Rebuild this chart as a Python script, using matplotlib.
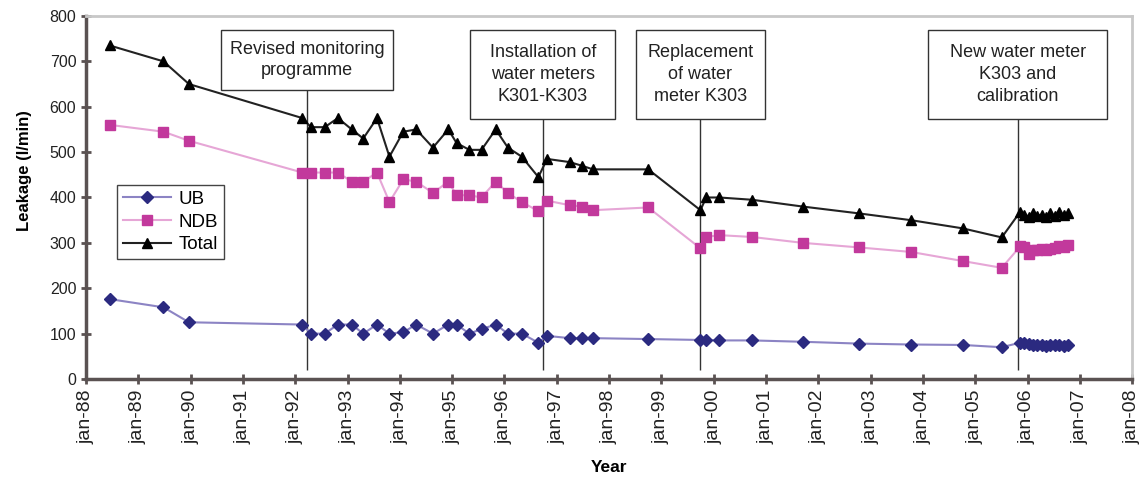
import matplotlib
matplotlib.use("Agg")
import matplotlib.pyplot as plt
import matplotlib.dates as mdates
from matplotlib.patches import Rectangle
from matplotlib.ticker import FuncFormatter
import pandas as pd

plt.rcParams["font.family"] = ["Liberation Sans", "DejaVu Sans"]

# measurement dates
dates = [
    "1988-06-15", "1989-06-25", "1989-12-20", "1992-02-20", "1992-04-20",
    "1992-07-25", "1992-10-25", "1993-01-30", "1993-04-20", "1993-07-25",
    "1993-10-20", "1994-01-25", "1994-04-25", "1994-08-20", "1994-12-05",
    "1995-02-01", "1995-05-01", "1995-07-25", "1995-11-01", "1996-01-25",
    "1996-05-01", "1996-08-25", "1996-10-25", "1997-04-01", "1997-06-25",
    "1997-09-10", "1998-10-01", "1999-10-01", "1999-11-10", "2000-02-10",
    "2000-09-25", "2001-09-15", "2002-10-10", "2003-10-10", "2004-10-05",
    "2005-07-05", "2005-11-10", "2005-12-10", "2006-01-10", "2006-02-10",
    "2006-03-10", "2006-04-10", "2006-05-10", "2006-06-10", "2006-07-10",
    "2006-08-10", "2006-09-10", "2006-10-10",
]

ub = [
    176, 158, 125, 120, 100, 100, 120, 120, 100, 120,
    100, 103, 120, 100, 120, 120, 100, 110, 120, 100,
    100, 80, 95, 90, 90, 90, 88, 86, 86, 85,
    85, 82, 78, 76, 75, 70, 80, 80, 78, 75,
    74, 76, 72, 76, 74, 76, 73, 75,
]

ndb = [
    560, 545, 525, 455, 455, 455, 455, 435, 435, 455,
    390, 440, 435, 410, 435, 405, 405, 400, 435, 410,
    390, 370, 393, 383, 380, 372, 378, 288, 313, 317,
    313, 300, 290, 280, 260, 245, 292, 290, 275, 285,
    284, 286, 285, 287, 288, 292, 290, 295,
]

total = [
    735, 700, 650, 575, 555, 555, 575, 550, 530, 575,
    490, 545, 550, 510, 550, 520, 505, 505, 550, 510,
    490, 445, 485, 478, 470, 462, 462, 372, 400, 400,
    395, 380, 365, 350, 332, 312, 368, 362, 358, 365,
    360, 362, 358, 365, 360, 368, 362, 365,
]

# events: date of the vertical line, label, box width (days), box bottom (l/min)
event_dates = ["1992-03-25", "1996-09-25", "1999-10-01", "2005-10-25"]
event_labels = [
    "Revised monitoring\nprogramme",
    "Installation of\nwater meters\nK301-K303",
    "Replacement\nof water\nmeter K303",
    "New water meter\nK303 and\ncalibration",
]
event_widths = [1198, 1011, 896, 1250]
event_bottoms = [638, 573, 573, 573]
box_top = 769

x = pd.to_datetime(dates)

fig = plt.figure(figsize=(11.39, 4.79), dpi=100)
ax = fig.add_axes([0.0755, 0.2088, 0.9184, 0.7578])

ax.plot(x, ub, color="#8c84c4", lw=1.5, marker="D", ms=6,
        mfc="#2b2a80", mec="#2b2a80", label="UB", zorder=3)
ax.plot(x, ndb, color="#e6a6d6", lw=1.5, marker="s", ms=6.5,
        mfc="#c2399c", mec="#c2399c", label="NDB", zorder=3)
ax.plot(x, total, color="#222222", lw=1.5, marker="^", ms=7.5,
        mfc="black", mec="black", label="Total", zorder=3)

for d, lab, w, bot in zip(event_dates, event_labels, event_widths, event_bottoms):
    xc = mdates.date2num(pd.Timestamp(d))
    ax.vlines(xc, 20, bot, color="#333333", lw=1, zorder=2)
    ax.add_patch(Rectangle((xc - w / 2, bot), w, box_top - bot, facecolor="white",
                           edgecolor="#333333", lw=1, zorder=4))
    ax.text(xc, (bot + box_top) / 2, lab, ha="center", va="center",
            fontsize=13, color="#222222", linespacing=1.35, zorder=5)

ax.set_xlim(pd.Timestamp("1988-01-01"), pd.Timestamp("2008-01-01"))
ax.set_ylim(0, 800)
ax.set_yticks(range(0, 801, 100))
ax.xaxis.set_major_locator(mdates.YearLocator())
ax.xaxis.set_major_formatter(FuncFormatter(
    lambda v, pos: "jan-" + mdates.num2date(v).strftime("%y")))

ax.tick_params(direction="inout", length=7, width=2, color="#5a5252",
               labelcolor="#222222")
ax.tick_params(axis="y", labelsize=11.5)
ax.tick_params(axis="x", labelsize=14, pad=4, labelrotation=90)
for side in ("left", "bottom"):
    ax.spines[side].set_color("#5a5252")
    ax.spines[side].set_linewidth(2.5)
for side in ("top", "right"):
    ax.spines[side].set_color("#c8c8c8")
    ax.spines[side].set_linewidth(2)

ax.set_ylabel("Leakage (l/min)", fontsize=12, fontweight="bold")
ax.yaxis.set_label_coords(-0.052, 0.573)
fig.text(0.535, 0.025, "Year", fontsize=12.5, fontweight="bold",
         ha="center", va="center")

leg = ax.legend(loc="upper left", bbox_to_anchor=(0.0296, 0.534), borderaxespad=0,
                fontsize=13.5, fancybox=False, framealpha=1, edgecolor="#444444",
                handlelength=2.6, handletextpad=0.4, labelspacing=0.3,
                borderpad=0.3)
leg.get_frame().set_linewidth(1)

fig.savefig("out.png", dpi=100, facecolor="white")
